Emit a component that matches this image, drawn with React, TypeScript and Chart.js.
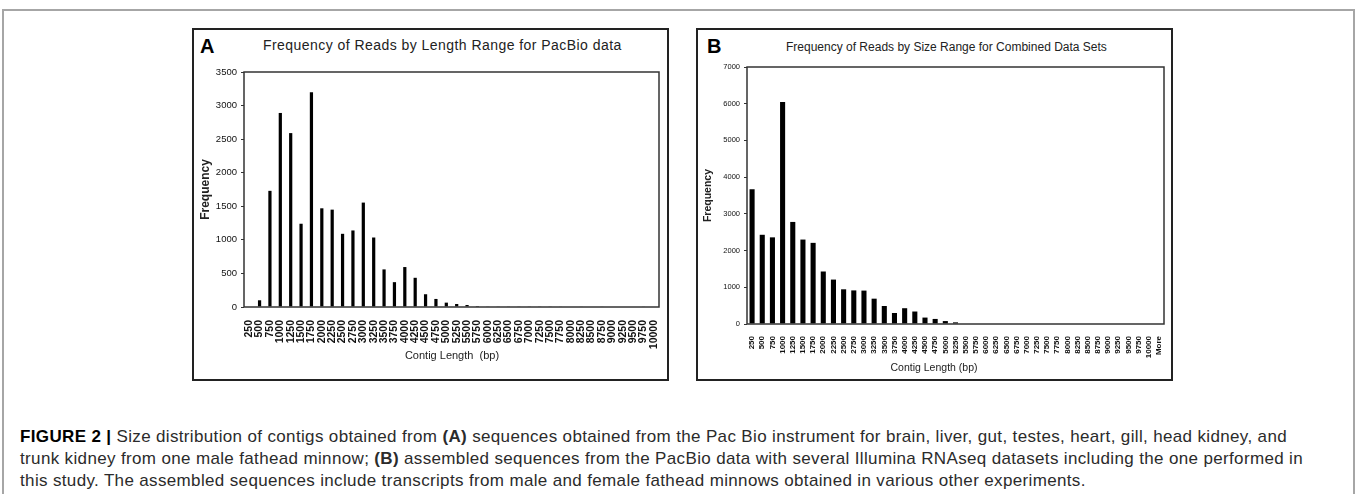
import React, { useEffect, useRef } from "react";
import { Chart, registerables } from "chart.js";

Chart.register(...registerables);

// ---------- data ----------
const lengthLabelsA = [
  "250", "500", "750", "1000", "1250", "1500", "1750", "2000", "2250", "2500",
  "2750", "3000", "3250", "3500", "3750", "4000", "4250", "4500", "4750", "5000",
  "5250", "5500", "5750", "6000", "6250", "6500", "6750", "7000", "7250", "7500",
  "7750", "8000", "8250", "8500", "8750", "9000", "9250", "9500", "9750", "10000",
];
const freqA = [
  0, 100, 1730, 2890, 2590, 1240, 3200, 1470, 1450, 1090,
  1140, 1555, 1035, 560, 370, 595, 435, 190, 120, 65,
  45, 30, 15, 10, 10, 10, 10, 10, 10, 10,
  9, 0, 9, 0, 9, 0, 0, 0, 9, 0,
];
const yTicksA = { min: 0, max: 3500, step: 500 };

const lengthLabelsB = [
  "250", "500", "750", "1000", "1250", "1500", "1750", "2000", "2250", "2500",
  "2750", "3000", "3250", "3500", "3750", "4000", "4250", "4500", "4750", "5000",
  "5250", "5500", "5750", "6000", "6250", "6500", "6750", "7000", "7250", "7500",
  "7750", "8000", "8250", "8500", "8750", "9000", "9250", "9500", "9750", "10000",
  "More",
];
const freqB = [
  3670, 2430, 2360, 6050, 2780, 2300, 2210, 1430, 1210, 945,
  915, 910, 690, 490, 300, 430, 340, 175, 138, 80,
  45, 0, 0, 0, 0, 0, 0, 0, 0, 0,
  0, 0, 0, 0, 0, 0, 0, 0, 0, 0,
  0,
];
const yTicksB = { min: 0, max: 7000, step: 1000 };

const FONT = "'Liberation Sans', Arial, Helvetica, sans-serif";

const plotBorder = {
  id: "plotBorder",
  afterDraw(chart: any) {
    const { ctx, chartArea } = chart;
    const { left, top, right, bottom } = chartArea;
    ctx.save();
    ctx.strokeStyle = "#333";
    ctx.lineWidth = 1.5;
    ctx.strokeRect(left, top, right - left, bottom - top);
    ctx.restore();
  },
};

type PanelCfg = {
  labels: string[];
  data: number[];
  ticks: { min: number; max: number; step: number };
  width: number;
  height: number;
  padTop: number;
  padRight: number;
  yWidth: number;
  xHeight: number;
  barPct: number;
  yTickSize: number;
  xTickSize: number;
  xTickPad: number;
  yTitleSize: number;
};

function BarPanel(props: PanelCfg & { style: React.CSSProperties }) {
  const ref = useRef<HTMLCanvasElement | null>(null);
  useEffect(() => {
    if (!ref.current) return;
    const c = props;
    const chart = new Chart(ref.current, {
      type: "bar",
      data: {
        labels: c.labels,
        datasets: [
          {
            data: c.data,
            backgroundColor: "#000",
            borderWidth: 0,
            barPercentage: c.barPct,
            categoryPercentage: 1,
          },
        ],
      },
      options: {
        animation: false,
        responsive: false,
        events: [],
        layout: { padding: { left: 0, top: c.padTop, right: c.padRight, bottom: 0 } },
        plugins: {
          legend: { display: false },
          tooltip: { enabled: false },
          title: { display: false },
        },
        scales: {
          x: {
            grid: { display: false },
            border: { display: false },
            ticks: {
              autoSkip: false,
              minRotation: 90,
              maxRotation: 90,
              padding: c.xTickPad,
              color: "#111",
              font: { family: FONT, size: c.xTickSize, weight: "bold" },
            },
            afterFit(s: any) {
              s.height = c.xHeight;
              s.paddingLeft = 0;
              s.paddingRight = 0;
            },
          },
          y: {
            min: c.ticks.min,
            max: c.ticks.max,
            ticks: {
              stepSize: c.ticks.step,
              padding: 4,
              color: "#111",
              font: { family: FONT, size: c.yTickSize },
              callback: (v: any) => String(v),
            },
            grid: { drawOnChartArea: false, tickLength: 3, color: "#333" },
            border: { display: false },
            title: {
              display: true,
              text: "Frequency",
              color: "#222",
              padding: { top: 4, bottom: 0 },
              font: { family: FONT, size: c.yTitleSize, weight: "bold" },
            },
            afterFit(s: any) {
              s.width = c.yWidth;
              s.paddingTop = 0;
              s.paddingBottom = 0;
            },
          },
        },
      } as any,
      plugins: [plotBorder],
    });
    return () => chart.destroy();
  }, []);
  return (
    <canvas
      ref={ref}
      width={props.width}
      height={props.height}
      style={{ position: "absolute", width: props.width, height: props.height, ...props.style }}
    />
  );
}

const abs = (s: React.CSSProperties): React.CSSProperties => ({ position: "absolute", ...s });

export default function App() {
  return (
    <div
      style={abs({
        left: 0,
        top: 0,
        width: 1358,
        height: 494,
        background: "#fff",
        overflow: "hidden",
        fontFamily: FONT,
      })}
    >
      {/* outer figure frame */}
      <div style={abs({ left: 2, top: 9, width: 1353, height: 600, border: "2px solid #a6a6a6", boxSizing: "border-box" })} />

      {/* panel A */}
      <div style={abs({ left: 192, top: 28, width: 477, height: 353, border: "2px solid #222", boxSizing: "border-box" })} />
      <div style={abs({ left: 200, top: 36, fontSize: 20, fontWeight: "bold", lineHeight: 1, color: "#000" })}>A</div>
      <div style={abs({ left: 263, top: 38, fontSize: 14, lineHeight: 1, letterSpacing: 0.45, color: "#222", whiteSpace: "nowrap" })}>
        Frequency of Reads by Length Range for PacBio data
      </div>
      <BarPanel
        style={{ left: 194, top: 60 }}
        labels={lengthLabelsA}
        data={freqA}
        ticks={yTicksA}
        width={473}
        height={290}
        padTop={12}
        padRight={8}
        yWidth={50}
        xHeight={43}
        barPct={0.31}
        yTickSize={9.5}
        xTickSize={10.5}
        xTickPad={5}
        yTitleSize={12}
      />
      <div style={abs({ left: 352, width: 200, top: 348, textAlign: "center", fontSize: 11, lineHeight: "14px", color: "#222", whiteSpace: "pre" })}>
        {"Contig Length  (bp)"}
      </div>

      {/* panel B */}
      <div style={abs({ left: 696, top: 28, width: 477, height: 353, border: "2px solid #222", boxSizing: "border-box" })} />
      <div style={abs({ left: 707, top: 36, fontSize: 20, fontWeight: "bold", lineHeight: 1, color: "#000" })}>B</div>
      <div style={abs({ left: 786, top: 41, fontSize: 12, lineHeight: 1, letterSpacing: 0, color: "#222", whiteSpace: "nowrap" })}>
        Frequency of Reads by Size Range for Combined Data Sets
      </div>
      <BarPanel
        style={{ left: 698, top: 56 }}
        labels={lengthLabelsB}
        data={freqB}
        ticks={yTicksB}
        width={473}
        height={310}
        padTop={11}
        padRight={7}
        yWidth={49}
        xHeight={42}
        barPct={0.5}
        yTickSize={7.5}
        xTickSize={8}
        xTickPad={4}
        yTitleSize={10.5}
      />
      <div style={abs({ left: 834, width: 200, top: 360, textAlign: "center", fontSize: 10.5, lineHeight: "14px", color: "#222", whiteSpace: "pre" })}>
        {"Contig Length (bp)"}
      </div>

      {/* caption */}
      <div style={abs({ left: 20, top: 426, fontSize: 17, letterSpacing: 0.35, lineHeight: "22px", color: "#2b2b2b", whiteSpace: "nowrap" })}>
        <div>
          <b style={{ color: "#000" }}>FIGURE 2 |</b> Size distribution of contigs obtained from <b>(A)</b> sequences obtained from the Pac Bio instrument for brain, liver, gut, testes, heart, gill, head kidney, and
        </div>
        <div>
          trunk kidney from one male fathead minnow; <b>(B)</b> assembled sequences from the PacBio data with several Illumina RNAseq datasets including the one performed in
        </div>
        <div>
          this study. The assembled sequences include transcripts from male and female fathead minnows obtained in various other experiments.
        </div>
      </div>
    </div>
  );
}
